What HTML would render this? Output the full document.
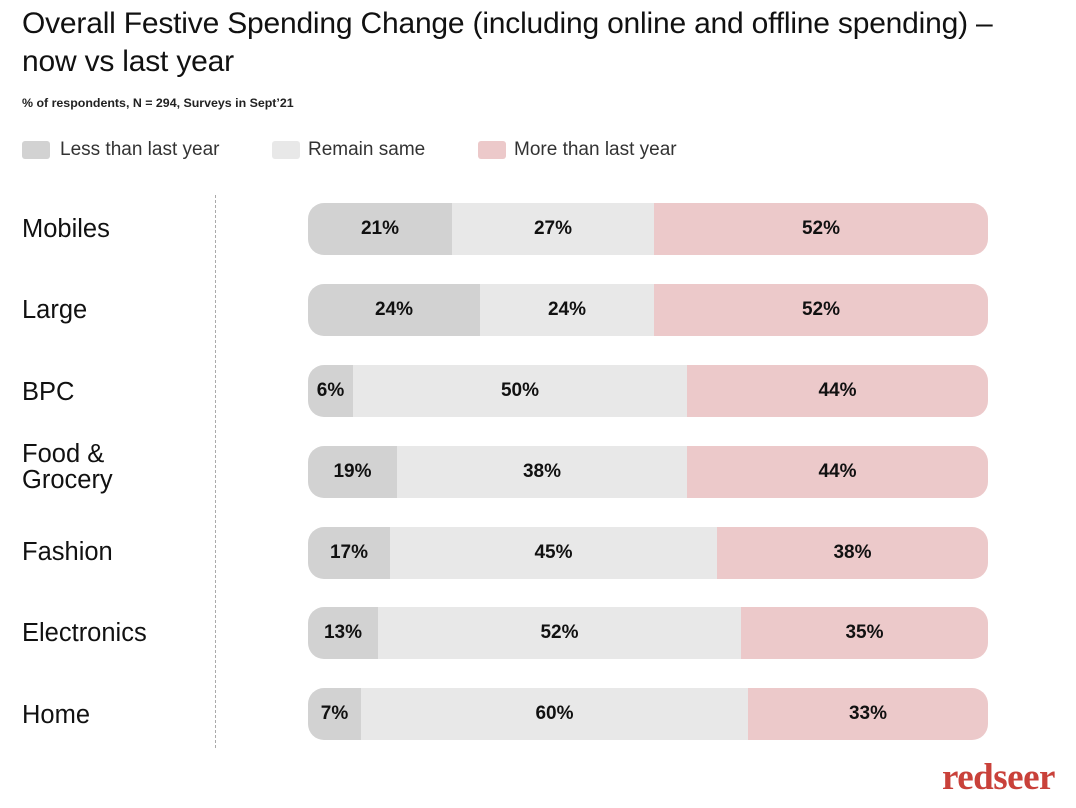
<!DOCTYPE html>
<html><head><style>
body{margin:0;width:1076px;height:808px;background:#fff;font-family:"Liberation Sans",sans-serif;color:#111;position:relative;overflow:hidden}
.t{position:absolute;left:22px;top:5px;font-size:30px;line-height:38px;width:1060px;letter-spacing:-0.2px;white-space:nowrap}
.s{position:absolute;left:22px;top:96px;font-size:12.4px;font-weight:bold;color:#222}
.lg{position:absolute;top:139px;font-size:19px;color:#333}
.sw{position:absolute;top:141px;width:28px;height:18px;border-radius:3px}
.lab{position:absolute;left:22px;font-size:25.5px;line-height:26px}
.bar{position:absolute;left:308px;width:680px;height:52px;border-radius:16px;overflow:hidden;display:flex;font-size:19px;font-weight:bold}
.bar div{display:flex;align-items:center;justify-content:center;height:100%}
.a{background:#d2d2d2}.b{background:#e8e8e8}.c{background:#ecc9ca}
.dash{position:absolute;left:215px;top:195px;height:553px;border-left:1px dashed #aaa}
.logo{position:absolute;left:942px;top:756px;font-family:"Liberation Serif",serif;font-weight:bold;font-size:37px;color:#c9413a;letter-spacing:-0.5px}
</style></head><body>
<div class="t">Overall Festive Spending Change (including online and offline spending) –<br>now vs last year</div>
<div class="s">% of respondents, N = 294, Surveys in Sept’21</div>
<div class="sw a" style="left:22px"></div><div class="lg" style="left:60px">Less than last year</div>
<div class="sw b" style="left:272px"></div><div class="lg" style="left:308px">Remain same</div>
<div class="sw c" style="left:478px"></div><div class="lg" style="left:514px">More than last year</div>
<div class="dash"></div>
<div class="lab" style="top:216px">Mobiles</div>
<div class="lab" style="top:297px">Large</div>
<div class="lab" style="top:379px">BPC</div>
<div class="lab" style="top:441px">Food &amp;<br>Grocery</div>
<div class="lab" style="top:539px">Fashion</div>
<div class="lab" style="top:620px">Electronics</div>
<div class="lab" style="top:702px">Home</div>
<div class="bar" style="top:203px"><div class="a" style="width:144px">21%</div><div class="b" style="width:202px">27%</div><div class="c" style="flex:1">52%</div></div>
<div class="bar" style="top:284px"><div class="a" style="width:172px">24%</div><div class="b" style="width:174px">24%</div><div class="c" style="flex:1">52%</div></div>
<div class="bar" style="top:365px"><div class="a" style="width:45px">6%</div><div class="b" style="width:334px">50%</div><div class="c" style="flex:1">44%</div></div>
<div class="bar" style="top:446px"><div class="a" style="width:89px">19%</div><div class="b" style="width:290px">38%</div><div class="c" style="flex:1">44%</div></div>
<div class="bar" style="top:527px"><div class="a" style="width:82px">17%</div><div class="b" style="width:327px">45%</div><div class="c" style="flex:1">38%</div></div>
<div class="bar" style="top:607px"><div class="a" style="width:70px">13%</div><div class="b" style="width:363px">52%</div><div class="c" style="flex:1">35%</div></div>
<div class="bar" style="top:688px"><div class="a" style="width:53px">7%</div><div class="b" style="width:387px">60%</div><div class="c" style="flex:1">33%</div></div>
<div class="logo">redseer</div>
</body></html>
